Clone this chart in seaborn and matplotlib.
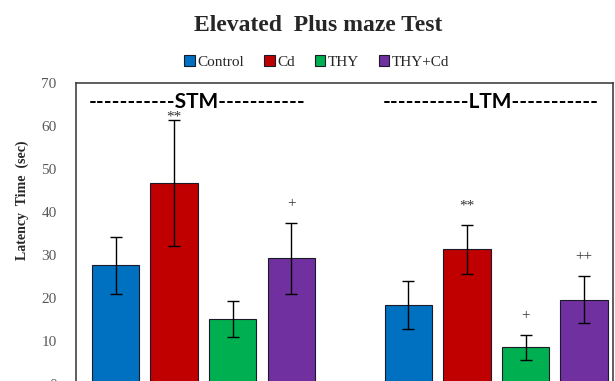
import pandas as pd
import matplotlib.pyplot as plt
import seaborn as sns

sns.set_theme(style="white")
plt.rcParams['font.family'] = ['Liberation Serif', 'DejaVu Serif']

# data
tests = ['STM', 'LTM']
groups = ['Control', 'Cd', 'THY', 'THY+Cd']
stm_mean = [27.5, 46.7, 15.0, 29.1]
stm_err = [6.6, 14.7, 4.2, 8.2]
ltm_mean = [18.3, 31.2, 8.4, 19.5]
ltm_err = [5.6, 5.6, 2.9, 5.5]
stm_sig = ['', '**', '', '+']
ltm_sig = ['', '**', '+', '++']
colors = ['#0070C0', '#C00000', '#00B050', '#7030A0']

df = pd.DataFrame({
    'Test': [t for t in tests for _ in groups],
    'Group': groups * 2,
    'Latency': stm_mean + ltm_mean,
    'Err': stm_err + ltm_err,
    'Sig': stm_sig + ltm_sig,
})

fig = plt.figure(figsize=(6.15, 3.81), dpi=100)
ax = fig.add_axes([0.1236, -0.0066, 0.873, 0.7895])

sns.barplot(data=df, x='Test', y='Latency', hue='Group', order=tests,
            hue_order=groups, palette=colors, saturation=1, errorbar=None,
            gap=0.19, edgecolor='#1a1a2a', linewidth=0.8, ax=ax)

# error bars + significance marks, on the bars' own positions
bars = [p for p in ax.patches if p.get_height() > 0][:len(df)]
for i, g in enumerate(groups):
    for j, t in enumerate(tests):
        row = df[(df['Test'] == t) & (df['Group'] == g)].iloc[0]
        p = bars[i * len(tests) + j]
        cx = p.get_x() + p.get_width() / 2
        ax.errorbar(cx, row['Latency'], yerr=row['Err'], color='black',
                    capsize=4, elinewidth=1, capthick=1, lw=0)
        if row['Sig']:
            y = min(row['Latency'] + row['Err'] + 3.0, 60.6)
            ax.text(cx, y, row['Sig'], ha='center', va='bottom',
                    fontsize=11, color='#333333')

for k, t in enumerate(tests):
    ax.text(k - 0.02, 65.5, '-----------' + t + '-----------', ha='center',
            va='center', fontsize=15, fontweight='bold', family='Lato',
            color='black')

ax.set_ylim(0, 70)
ax.set_xlim(-0.435, 1.398)
ax.set_yticks(range(0, 71, 10))
ax.set_xticks([])
ax.set_xlabel('')
ax.set_ylabel('Latency  Time  (sec)', fontsize=10, fontweight='bold')
ax.yaxis.set_label_coords(-0.087, 0.61)
ax.tick_params(axis='y', length=0, pad=14, labelsize=11, labelcolor='#595959')
for s in ax.spines.values():
    s.set_color('#333333')
    s.set_linewidth(1.1)

h, l = ax.get_legend_handles_labels()
ax.legend_.remove()
fig.legend(h, l, loc='center', bbox_to_anchor=(0.515, 0.837), ncol=4,
           frameon=False, fontsize=11, handlelength=0.7, handleheight=0.7,
           handletextpad=0.15, columnspacing=1.3)

fig.text(0.517, 0.934, 'Elevated  Plus maze Test', ha='center', va='center',
         fontsize=17, fontweight='bold')

fig.savefig('out.png', dpi=100)
